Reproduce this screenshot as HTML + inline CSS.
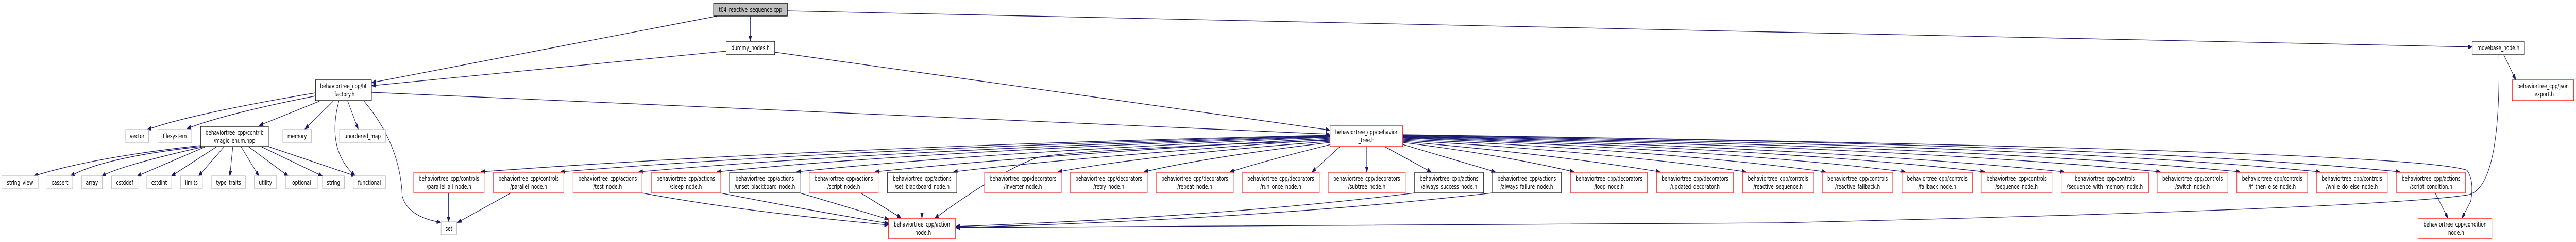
<!DOCTYPE html>
<html><head><meta charset="utf-8"><style>
html,body{margin:0;padding:0;background:#fff;width:100%;height:100%;overflow:hidden;}
svg{display:block;width:100%;height:100%;}
text{font-family:"DejaVu Sans","Liberation Sans",sans-serif;font-size:12.5px;fill:#000;text-anchor:middle;}
.e{fill:none;stroke:#191970;stroke-width:1.3;marker-end:url(#a);}
.k{fill:#fff;stroke:#000;stroke-width:1.3;}
.g{fill:#fff;stroke:#bfbfbf;stroke-width:1.3;}
.d{fill:#fff;stroke:#404040;stroke-width:1.6;}
.r{fill:#fff;stroke:#ff0000;stroke-width:1.3;}
.l{fill:#fff;stroke:#f25454;stroke-width:1.6;}
</style></head><body>
<svg viewBox="0 0 6949 469" preserveAspectRatio="none" xmlns="http://www.w3.org/2000/svg">
<defs><marker id="a" markerUnits="userSpaceOnUse" markerWidth="11" markerHeight="8" refX="10" refY="4" orient="auto"><path d="M0,0 L11,4 L0,8 z" fill="#191970" stroke="#191970"/></marker></defs>

<path class="e" d="M1935,31 L1004,160"/>
<path class="e" d="M2024,31 L2024,79"/>
<path class="e" d="M2124,21 L6668,91"/>
<path class="e" d="M1959,99 L1004,166"/>
<path class="e" d="M2090,101 L3586,252"/>
<path class="e" d="M1002,179 L3586,260"/>
<path class="e" d="M851,180 Q520,220 398,251"/>
<path class="e" d="M851,186 Q610,220 505,249"/>
<path class="e" d="M862,196 L700,243"/>
<path class="e" d="M899,196 L823,250"/>
<path class="e" d="M938,196 L966,250"/>
<path class="e" d="M914,196 Q880,290 957,340"/>
<path class="e" d="M982,196 Q1080,280 1085,380 Q1100,420 1188,431"/>
<path class="e" d="M541,282 Q250,305 92,341"/>
<path class="e" d="M541,284 Q280,305 191,341"/>
<path class="e" d="M551,284 Q330,320 275,341"/>
<path class="e" d="M555,284 L371,341"/>
<path class="e" d="M585,284 L463,341"/>
<path class="e" d="M605,284 L536,341"/>
<path class="e" d="M628,284 L620,341"/>
<path class="e" d="M650,284 L698,341"/>
<path class="e" d="M670,284 L777,341"/>
<path class="e" d="M704,284 L869,341"/>
<path class="e" d="M724,284 L958,341"/>
<path class="e" d="M3588,262 Q2200,285 1298,333"/>
<path class="e" d="M3588,263 Q2300,287 1513,333"/>
<path class="e" d="M3588,264 Q2400,290 1724,333"/>
<path class="e" d="M3588,265 Q2500,292 1935,333"/>
<path class="e" d="M3588,266 Q2650,295 2150,333"/>
<path class="e" d="M3588,268 Q2800,300 2361,333"/>
<path class="e" d="M3588,270 Q2900,305 2573,333"/>
<path class="e" d="M3588,272 Q2900,290 2800,305 Q2700,330 2522,423"/>
<path class="e" d="M3588,274 Q3100,300 2855,333"/>
<path class="e" d="M3588,276 Q3250,305 3087,333"/>
<path class="e" d="M3590,280 Q3420,310 3319,333"/>
<path class="e" d="M3615,284 L3540,333"/>
<path class="e" d="M3687,284 L3687,333"/>
<path class="e" d="M3735,284 L3860,333"/>
<path class="e" d="M3784,280 L4033,333"/>
<path class="e" d="M3784,276 Q4050,300 4245,333"/>
<path class="e" d="M3784,274 Q4200,300 4477,333"/>
<path class="e" d="M3784,272 Q4350,295 4709,333"/>
<path class="e" d="M3784,270 Q4500,292 4924,333"/>
<path class="e" d="M3784,268 Q4650,290 5139,333"/>
<path class="e" d="M3784,267 Q4800,288 5353,333"/>
<path class="e" d="M3784,266 Q4900,285 5568,333"/>
<path class="e" d="M3784,265 Q5100,283 5827,333"/>
<path class="e" d="M3784,264 Q5300,282 6042,333"/>
<path class="e" d="M3784,263 Q5500,280 6257,333"/>
<path class="e" d="M3784,262 Q5700,278 6473,333"/>
<path class="e" d="M3784,261 Q6500,290 6655,330 Q6675,350 6665,390 L6642,422"/>
<path class="e" d="M6754,106 L6786,154"/>
<path class="e" d="M6741,106 C6745,300 6710,372 6655,378 Q6400,405 4800,432 L2579,441"/>
<path class="e" d="M1210,374 L1210,430"/>
<path class="e" d="M1378,374 L1235,431"/>
<path class="e" d="M1732,374 Q2000,410 2396,436"/>
<path class="e" d="M1943,374 Q2200,410 2396,433"/>
<path class="e" d="M2158,374 L2396,425"/>
<path class="e" d="M2322,374 L2430,422"/>
<path class="e" d="M2487,374 L2487,422"/>
<path class="e" d="M3816,374 Q3300,420 2579,439"/>
<path class="e" d="M4025,374 Q3400,425 2579,441"/>
<path class="e" d="M6569,374 L6603,422"/>

<rect class="k" x="1925" y="6" width="199" height="25" style="fill:#bfbfbf"/><text x="2024.5" y="23">t04_reactive_sequence.cpp</text>
<rect class="k" x="1959" y="80" width="131" height="26"/><text x="2024.5" y="97">dummy_nodes.h</text>
<rect class="d" x="6669" y="80" width="141" height="26"/><text x="6739.5" y="97">movebase_node.h</text>
<rect class="k" x="851" y="155" width="151" height="40"/><text x="926.5" y="171">behaviortree_cpp/bt</text><text x="926.5" y="187">_factory.h</text>
<rect class="r" x="3588" y="244" width="196" height="40"/><text x="3686" y="260">behaviortree_cpp/behavior</text><text x="3686" y="276">_tree.h</text>
<rect class="r" x="6777" y="155" width="166" height="40"/><text x="6860" y="171">behaviortree_cpp/json</text><text x="6860" y="187">_export.h</text>
<rect class="k" x="541" y="245" width="183" height="39"/><text x="632.5" y="261">behaviortree_cpp/contrib</text><text x="632.5" y="277">/magic_enum.hpp</text>
<rect class="g" x="339" y="251" width="62" height="26"/><text x="370" y="268">vector</text>
<rect class="g" x="426" y="251" width="91" height="26"/><text x="471.5" y="268">filesystem</text>
<rect class="g" x="763" y="251" width="77" height="26"/><text x="801.5" y="268">memory</text>
<rect class="g" x="916" y="251" width="124" height="26"/><text x="978" y="268">unordered_map</text>
<rect class="g" x="5" y="341" width="98" height="25"/><text x="54" y="358">string_view</text>
<rect class="g" x="127" y="341" width="69" height="25"/><text x="161.5" y="358">cassert</text>
<rect class="g" x="220" y="341" width="56" height="25"/><text x="248" y="358">array</text>
<rect class="g" x="301" y="341" width="71" height="25"/><text x="336.5" y="358">cstddef</text>
<rect class="g" x="396" y="341" width="67" height="25"/><text x="429.5" y="358">cstdint</text>
<rect class="g" x="487" y="341" width="59" height="25"/><text x="516.5" y="358">limits</text>
<rect class="g" x="571" y="341" width="91" height="25"/><text x="616.5" y="358">type_traits</text>
<rect class="g" x="686" y="341" width="60" height="25"/><text x="716" y="358">utility</text>
<rect class="g" x="771" y="341" width="85" height="25"/><text x="813.5" y="358">optional</text>
<rect class="g" x="870" y="341" width="59" height="25"/><text x="899.5" y="358">string</text>
<rect class="g" x="953" y="341" width="87" height="25"/><text x="996.5" y="358">functional</text>
<rect class="g" x="1190" y="430" width="42" height="25"/><text x="1211" y="447">set</text>
<rect class="r" x="2397" y="423" width="180" height="40"/><text x="2487" y="439">behaviortree_cpp/action</text><text x="2487" y="455">_node.h</text>
<rect class="r" x="6523" y="423" width="199" height="40"/><text x="6622.5" y="439">behaviortree_cpp/condition</text><text x="6622.5" y="455">_node.h</text>

<rect class="l" x="1116" y="334" width="190" height="40"/><text x="1211" y="350">behaviortree_cpp/controls</text><text x="1211" y="366">/parallel_all_node.h</text>
<rect class="l" x="1331" y="334" width="190" height="40"/><text x="1426" y="350">behaviortree_cpp/controls</text><text x="1426" y="366">/parallel_node.h</text>
<rect class="l" x="1546" y="334" width="186" height="40"/><text x="1639" y="350">behaviortree_cpp/actions</text><text x="1639" y="366">/test_node.h</text>
<rect class="l" x="1757" y="334" width="186" height="40"/><text x="1850" y="350">behaviortree_cpp/actions</text><text x="1850" y="366">/sleep_node.h</text>
<rect class="d" x="1968" y="334" width="190" height="40"/><text x="2063" y="350">behaviortree_cpp/actions</text><text x="2063" y="366">/unset_blackboard_node.h</text>
<rect class="l" x="2183" y="334" width="186" height="40"/><text x="2276" y="350">behaviortree_cpp/actions</text><text x="2276" y="366">/script_node.h</text>
<rect class="d" x="2394" y="334" width="187" height="40"/><text x="2487.5" y="350">behaviortree_cpp/actions</text><text x="2487.5" y="366">/set_blackboard_node.h</text>
<rect class="l" x="2656" y="334" width="207" height="40"/><text x="2759.5" y="350">behaviortree_cpp/decorators</text><text x="2759.5" y="366">/inverter_node.h</text>
<rect class="l" x="2887" y="334" width="208" height="40"/><text x="2991" y="350">behaviortree_cpp/decorators</text><text x="2991" y="366">/retry_node.h</text>
<rect class="l" x="3119" y="334" width="208" height="40"/><text x="3223" y="350">behaviortree_cpp/decorators</text><text x="3223" y="366">/repeat_node.h</text>
<rect class="l" x="3351" y="334" width="208" height="40"/><text x="3455" y="350">behaviortree_cpp/decorators</text><text x="3455" y="366">/run_once_node.h</text>
<rect class="l" x="3583" y="334" width="208" height="40"/><text x="3687" y="350">behaviortree_cpp/decorators</text><text x="3687" y="366">/subtree_node.h</text>
<rect class="d" x="3816" y="334" width="186" height="40"/><text x="3909" y="350">behaviortree_cpp/actions</text><text x="3909" y="366">/always_success_node.h</text>
<rect class="d" x="4025" y="334" width="187" height="40"/><text x="4118.5" y="350">behaviortree_cpp/actions</text><text x="4118.5" y="366">/always_failure_node.h</text>
<rect class="l" x="4237" y="334" width="207" height="40"/><text x="4340.5" y="350">behaviortree_cpp/decorators</text><text x="4340.5" y="366">/loop_node.h</text>
<rect class="l" x="4469" y="334" width="207" height="40"/><text x="4572.5" y="350">behaviortree_cpp/decorators</text><text x="4572.5" y="366">/updated_decorator.h</text>
<rect class="l" x="4701" y="334" width="191" height="40"/><text x="4796.5" y="350">behaviortree_cpp/controls</text><text x="4796.5" y="366">/reactive_sequence.h</text>
<rect class="l" x="4916" y="334" width="190" height="40"/><text x="5011" y="350">behaviortree_cpp/controls</text><text x="5011" y="366">/reactive_fallback.h</text>
<rect class="l" x="5131" y="334" width="190" height="40"/><text x="5226" y="350">behaviortree_cpp/controls</text><text x="5226" y="366">/fallback_node.h</text>
<rect class="l" x="5345" y="334" width="190" height="40"/><text x="5440" y="350">behaviortree_cpp/controls</text><text x="5440" y="366">/sequence_node.h</text>
<rect class="l" x="5560" y="334" width="236" height="40"/><text x="5678" y="350">behaviortree_cpp/controls</text><text x="5678" y="366">/sequence_with_memory_node.h</text>
<rect class="l" x="5819" y="334" width="191" height="40"/><text x="5914.5" y="350">behaviortree_cpp/controls</text><text x="5914.5" y="366">/switch_node.h</text>
<rect class="l" x="6034" y="334" width="191" height="40"/><text x="6129.5" y="350">behaviortree_cpp/controls</text><text x="6129.5" y="366">/if_then_else_node.h</text>
<rect class="l" x="6249" y="334" width="191" height="40"/><text x="6344.5" y="350">behaviortree_cpp/controls</text><text x="6344.5" y="366">/while_do_else_node.h</text>
<rect class="l" x="6465" y="334" width="186" height="40"/><text x="6558" y="350">behaviortree_cpp/actions</text><text x="6558" y="366">/script_condition.h</text>
</svg>
</body></html>
